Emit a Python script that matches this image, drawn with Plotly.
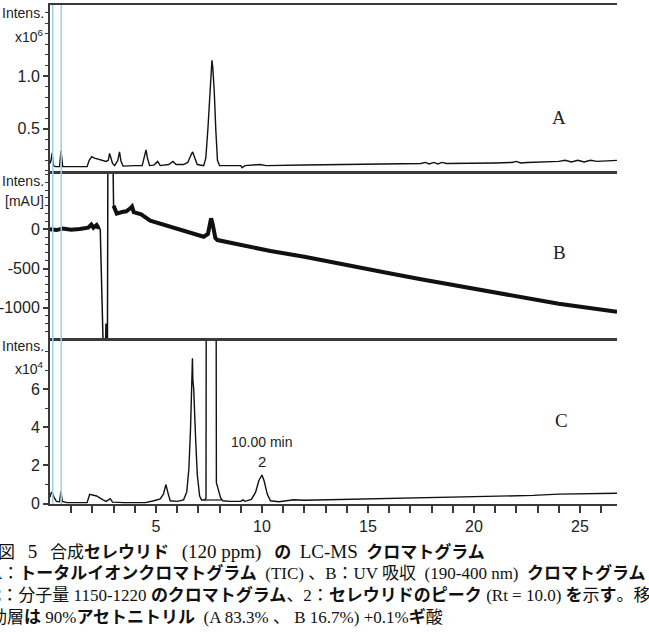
import plotly.graph_objects as go

W, H = 649, 640

# ---------------- data ----------------
# Panel A: TIC, Intens. x10^6 vs time (min)
tic_time = [0.0, 0.05, 0.1, 0.16, 0.25, 0.45, 0.52, 0.6, 0.8, 1.75, 1.85, 1.97, 2.1, 2.3, 2.5, 2.65,
            2.75, 2.81, 2.88, 2.95, 3.05, 3.2, 3.28, 3.35, 3.45, 3.7, 4.0, 4.35, 4.45, 4.53, 4.6, 4.7,
            4.9, 5.08, 5.2, 5.6, 5.8, 5.95, 6.3, 6.5, 6.65, 6.73, 6.82, 6.95, 7.25, 7.35, 7.45, 7.53,
            7.6, 7.64, 7.68, 7.75, 7.82, 7.9, 8.0, 9.0, 9.06, 9.2, 9.9, 10.2, 12.0, 15.0, 17.5, 17.7,
            17.9, 18.1, 18.3, 18.5, 18.7, 21.0, 21.8, 22.0, 22.2, 22.5, 24.0, 24.3, 24.6, 24.9, 25.2,
            25.5, 25.8, 26.75]
tic_int = [0.17, 0.2, 0.27, 0.15, 0.14, 0.14, 0.29, 0.14, 0.14, 0.14, 0.2, 0.235, 0.22, 0.21, 0.2, 0.19,
           0.2, 0.265, 0.22, 0.17, 0.15, 0.2, 0.28, 0.19, 0.145, 0.15, 0.15, 0.15, 0.22, 0.3, 0.22, 0.15,
           0.155, 0.19, 0.15, 0.16, 0.19, 0.16, 0.16, 0.18, 0.25, 0.28, 0.23, 0.16, 0.15, 0.22, 0.5, 0.8,
           1.05, 1.15, 1.08, 0.85, 0.5, 0.2, 0.15, 0.15, 0.13, 0.15, 0.16, 0.15, 0.155, 0.16, 0.17, 0.18,
           0.165, 0.18, 0.165, 0.18, 0.17, 0.175, 0.18, 0.19, 0.175, 0.18, 0.19, 0.2, 0.185, 0.2, 0.185,
           0.2, 0.19, 0.2]

# Panel B: UV (190-400 nm), mAU vs time (min)
uv_time = [0.0, 0.3, 0.6, 1.0, 1.4, 1.8, 1.95, 2.05, 2.2, 2.3, 2.37, 2.49, 2.51, 2.62, 2.64, 2.67, 2.71,
           2.73, 2.97, 3.0, 3.05, 3.15, 3.4, 3.6, 3.8, 3.87, 3.95, 4.3, 4.73, 5.2, 5.6, 6.14, 6.6, 7.0,
           7.25, 7.45, 7.55, 7.6, 7.68, 7.8, 7.9, 8.5, 9.0, 10.4, 12.0, 14.0, 16.0, 17.5, 20.0, 22.0,
           24.0, 26.75]
uv_mau = [0, -10, 10, -5, 5, 20, 60, 20, 55, 10, 0, -1130, -1500, -1500, -1200, -1500, -1500,
          900, 900, 300, 260, 200, 220, 230, 270, 290, 220, 190, 110, 70, 40, -10, -40, -70,
          -95, -60, 110, 140, 60, -110, -137, -170, -210, -277, -350, -450, -560, -638, -760, -860,
          -950, -1051]

# Panel C: m/z 1150-1220 EIC, Intens. x10^4 vs time (min)
eic_time = [0.0, 0.05, 0.1, 0.18, 0.3, 0.45, 0.52, 0.58, 0.8, 1.75, 1.87, 2.0, 2.2, 2.5, 2.65, 2.84,
            2.95, 3.5, 4.5, 4.9, 5.2, 5.35, 5.47, 5.58, 5.67, 6.0, 6.3, 6.45, 6.55, 6.63, 6.69, 6.72,
            6.74, 6.78, 6.87, 6.95, 7.06, 7.15, 7.3, 7.36, 7.37, 7.84, 7.85, 7.95, 8.05, 8.15, 8.5,
            9.0, 9.1, 9.2, 9.5, 9.7, 9.85, 10.0, 10.1, 10.25, 10.4, 10.8, 11.5, 12.0, 13.0, 15.0,
            17.0, 20.0, 22.8, 24.0, 26.75]
eic_int = [0.35, 0.55, 0.6, 0.35, 0.12, 0.1, 0.65, 0.12, 0.05, 0.05, 0.49, 0.45, 0.4, 0.2, 0.12, 0.26,
           0.08, 0.05, 0.05, 0.15, 0.25, 0.5, 1.0, 0.5, 0.15, 0.12, 0.2, 0.6, 1.8, 3.9, 6.0, 7.62,
           6.5, 6.0, 3.4, 1.5, 0.4, 0.19, 0.19, 0.3, 9.0, 9.0, 1.1, 0.7, 0.3, 0.15, 0.12,
           0.12, 0.2, 0.12, 0.22, 0.6, 1.2, 1.5, 1.2, 0.5, 0.15, 0.1, 0.2, 0.18, 0.2, 0.26,
           0.3, 0.37, 0.43, 0.5, 0.54]
# integration baseline drawn under the off-scale peak
base_time = [7.3, 8.1]
base_int = [0.19, 0.19]

marker_times = [0.13, 0.53]          # light-blue markers
x_tick_vals = list(range(1, 27))
x_tick_text = [str(v) if v % 5 == 0 else "" for v in x_tick_vals]

# ---------------- layout helpers (pixel -> paper) ----------------
def px(x):
    return x / W


def py(y):
    return 1 - y / H


X0, X1 = 50, 617
panels = {"A": (5, 171), "B": (174, 338), "C": (341, 504)}

AX = "#3a3a3a"
TICKFONT = dict(family="Liberation Sans Narrow, Arial Narrow, Liberation Sans, sans-serif", size=16, color="#222")

fig = go.Figure()
fig.add_trace(go.Scatter(x=tic_time, y=tic_int, mode="lines", line=dict(color="#111", width=1.4),
                         xaxis="x", yaxis="y", showlegend=False))

# UV: thin full trace plus a thick "noise band" over the noisy parts
fig.add_trace(go.Scatter(x=uv_time, y=uv_mau, mode="lines", line=dict(color="#111", width=1.5),
                         xaxis="x2", yaxis="y2", showlegend=False))
band_t, band_v = [], []
for t, v in zip(uv_time, uv_mau):
    if 2.36 < t < 2.99:
        if band_t and band_t[-1] is not None:
            band_t.append(None)
            band_v.append(None)
        continue
    band_t.append(t)
    band_v.append(v)
fig.add_trace(go.Scatter(x=band_t, y=band_v, mode="lines", line=dict(color="#111", width=4),
                         xaxis="x2", yaxis="y2", showlegend=False, connectgaps=False))

fig.add_trace(go.Scatter(x=eic_time, y=eic_int, mode="lines", line=dict(color="#111", width=1.4),
                         xaxis="x3", yaxis="y3", showlegend=False))
fig.add_trace(go.Scatter(x=base_time, y=base_int, mode="lines", line=dict(color="#111", width=1.2),
                         xaxis="x3", yaxis="y3", showlegend=False))

xrange = [0, 26.75]
common_x = dict(range=xrange, showline=True, linecolor=AX, linewidth=2, mirror=True,
                showgrid=False, zeroline=False, automargin=False)
common_y = dict(showline=True, linecolor=AX, linewidth=2, showgrid=False, zeroline=False,
                ticks="outside", ticklen=5, tickcolor=AX, tickwidth=1.5, tickfont=TICKFONT,
                automargin=False)

layout = dict(
    width=W, height=H, margin=dict(l=0, r=0, t=0, b=0, pad=0), autosize=False,
    paper_bgcolor="white", plot_bgcolor="white", showlegend=False,
    xaxis=dict(domain=[px(X0), px(X1)], anchor="y", showticklabels=False, ticks="", **common_x),
    xaxis2=dict(domain=[px(X0), px(X1)], anchor="y2", showticklabels=False, ticks="", **common_x),
    xaxis3=dict(domain=[px(X0), px(X1)], anchor="y3", ticks="outside", ticklen=7, tickcolor=AX,
                tickwidth=1.5, tickmode="array", tickvals=x_tick_vals, ticktext=x_tick_text,
                tickfont=TICKFONT, **common_x),
    yaxis=dict(domain=[py(panels["A"][1]), py(panels["A"][0])], anchor="x",
               range=[0.0987, 1.674], tickmode="array", tickvals=[0.5, 1.0], ticktext=["0.5", "1.0"],
               minor=dict(dtick=0.1, tick0=0, ticks="outside", ticklen=3, tickcolor=AX, tickwidth=1),
               **common_y),
    yaxis2=dict(domain=[py(panels["B"][1]), py(panels["B"][0])], anchor="x2",
                range=[-1386, 705], tickmode="array", tickvals=[-1000, -500, 0],
                ticktext=["-1000", "-500", "0"],
                minor=dict(dtick=100, tick0=0, ticks="outside", ticklen=3, tickcolor=AX, tickwidth=1),
                **common_y),
    yaxis3=dict(domain=[py(panels["C"][1]), py(panels["C"][0])], anchor="x3",
                range=[-0.02, 8.53], tickmode="array", tickvals=[0, 2, 4, 6], ticktext=["0", "2", "4", "6"],
                minor=dict(dtick=1, tick0=0, ticks="outside", ticklen=3, tickcolor=AX, tickwidth=1),
                **common_y),
)
fig.update_layout(**layout)

# light-blue markers spanning all panels
for mt in marker_times:
    fig.add_shape(type="line", xref="x3", yref="paper", x0=mt, x1=mt,
                  y0=py(panels["C"][1]), y1=py(panels["A"][0]),
                  line=dict(color="#9ccfee", width=1.5), layer="above")

ann = []
LBL = dict(family="Liberation Sans Narrow, Arial Narrow, Liberation Sans, sans-serif", size=14, color="#222")
for text, ycen in [("Intens.", 13), ("x10<sup>6</sup>", 36), ("Intens.", 181), ("[mAU]", 201),
                   ("Intens.", 346), ("x10<sup>4</sup>", 368)]:
    ann.append(dict(text=text, xref="paper", yref="paper", x=px(46), y=py(ycen), xanchor="right",
                    yanchor="middle", showarrow=False, font=LBL))

SERIF = dict(family="Liberation Serif, Times New Roman, serif", size=19, color="#222")
for letter, (xc, yc) in zip(["A", "B", "C"], [(559, 117), (559, 252), (561, 420)]):
    ann.append(dict(text=letter, xref="paper", yref="paper", x=px(xc), y=py(yc), xanchor="center",
                    yanchor="middle", showarrow=False, font=SERIF))

PK = dict(family="Liberation Sans Narrow, Arial Narrow, Liberation Sans, sans-serif", size=14, color="#222")
ann.append(dict(text="10.00 min", xref="x3", yref="y3", x=10.0, y=3.25, showarrow=False,
                xanchor="center", yanchor="middle", font=PK))
ann.append(dict(text="2", xref="x3", yref="y3", x=10.0, y=2.22, showarrow=False,
                xanchor="center", yanchor="middle", font=dict(PK, size=15)))

NB = "\u00a0"
BIG = "<span style='font-size:19px'>{}</span>"
CAP = dict(family="Liberation Serif, Noto Sans CJK JP, serif", size=17, color="#111")
line1 = ("図" + NB * 3 + BIG.format("5") + NB * 3 + "合成<b>セレウリド</b>" + NB * 3
         + BIG.format("(120 ppm)") + NB * 3 + "<b>の</b>" + NB * 2 + BIG.format("LC-MS") + NB * 2
         + "<b>クロマトグラム</b>")
captions = [
    (line1, -4, 552),
    ("A：<b>トータルイオンクロマトグラム</b>" + NB * 2 + "(TIC)" + NB + "、B：UV 吸収" + NB * 2
     + "(190-400 nm)" + NB * 2 + "<b>クロマトグラム</b>", -12, 573),
    ("C：分子量 1150-1220 <b>のクロマトグラム</b>、2：<b>セレウリドのピーク</b> (Rt = 10.0) <b>を</b>示<b>す</b>。移",
     -12, 595),
    ("動層<b>は</b> 90%<b>アセトニトリル</b>" + NB * 2 + "(A 83.3%" + NB + "、" + NB + "B 16.7%) +0.1%<b>ギ</b>酸",
     -12, 617),
]
for text, xl, yc in captions:
    ann.append(dict(text=text, xref="paper", yref="paper", x=px(xl), y=py(yc), xanchor="left",
                    yanchor="middle", showarrow=False, font=CAP, align="left"))

fig.update_layout(annotations=ann)
fig.write_html("out.html")
